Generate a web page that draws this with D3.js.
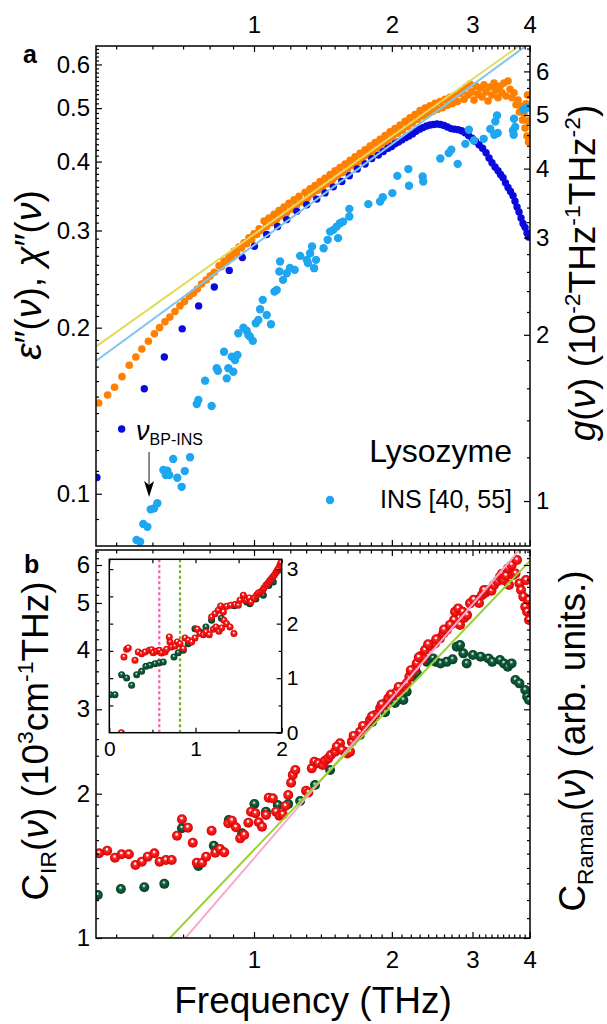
<!DOCTYPE html>
<html>
<head>
<meta charset="utf-8">
<script src="https://cdn.jsdelivr.net/npm/d3@7"></script>
<style>
  body { margin: 0; background: #fff; }
  svg { display: block; }
  text { font-family: "Liberation Sans", Arial, sans-serif; fill: #000; }
</style>
</head>
<body>
<script>
const orangeColor = "#ff7f00";
const blueColor = "#0a0ade";
const insColor = "#1ea6f0";
const yellowColor = "#e2dc5c";
const skyColor = "#7ec6ee";
const pinkColor = "#f7a9c9";
const limeColor = "#9ad232";
const fontFam = "Liberation Sans, Arial, sans-serif";

// tick labels
const xMajor = [1, 2, 3, 4];
const epsTicks = [0.1, 0.2, 0.3, 0.4, 0.5, 0.6];
const gTicks = [1, 2, 3, 4, 5, 6];
const cTicks = [1, 2, 3, 4, 5, 6];
const insetXTicks = [0, 1, 2];
const insetYTicks = [0, 1, 2, 3];

// panel a: dielectric loss eps''(nu) [THz, value]
const epsData = [
  [0.458,0.146],[0.479,0.151],[0.496,0.156],[0.515,0.163],[0.534,0.171],[0.552,0.177],[0.569,0.183],
  [0.588,0.189],[0.606,0.195],[0.622,0.200],[0.639,0.205],[0.655,0.209],[0.672,0.214],[0.689,0.219],
  [0.705,0.223],[0.722,0.228],[0.737,0.231],[0.752,0.235],[0.768,0.240],[0.786,0.244],[0.802,0.248],
  [0.819,0.252],[0.839,0.259],[0.849,0.258],[0.860,0.264],[0.871,0.263],[0.882,0.269],[0.893,0.268],
  [0.904,0.275],[0.916,0.273],[0.927,0.280],[0.939,0.279],[0.951,0.285],[0.963,0.284],[0.975,0.291],
  [0.988,0.289],[1.000,0.296],[1.013,0.295],[1.026,0.302],[1.039,0.300],[1.052,0.312],[1.065,0.305],
  [1.078,0.316],[1.092,0.310],[1.106,0.321],[1.120,0.314],[1.134,0.326],[1.148,0.319],[1.163,0.331],
  [1.178,0.323],[1.192,0.336],[1.208,0.328],[1.223,0.341],[1.238,0.333],[1.254,0.346],[1.270,0.338],
  [1.293,0.352],[1.309,0.344],[1.326,0.357],[1.342,0.349],[1.359,0.362],[1.377,0.355],[1.394,0.368],
  [1.412,0.360],[1.429,0.373],[1.448,0.365],[1.466,0.379],[1.484,0.371],[1.503,0.385],[1.522,0.376],
  [1.541,0.390],[1.561,0.382],[1.581,0.396],[1.601,0.388],[1.621,0.402],[1.641,0.394],[1.662,0.408],
  [1.683,0.399],[1.704,0.414],[1.726,0.405],[1.748,0.420],[1.770,0.411],[1.792,0.427],[1.815,0.417],
  [1.838,0.433],[1.861,0.424],[1.885,0.439],[1.909,0.430],[1.933,0.446],[1.957,0.436],[1.982,0.453],
  [2.007,0.443],[2.032,0.459],[2.058,0.450],[2.084,0.466],[2.111,0.456],[2.137,0.473],[2.164,0.463],
  [2.191,0.480],[2.219,0.470],[2.247,0.487],[2.276,0.477],[2.304,0.495],[2.334,0.484],[2.363,0.500],
  [2.393,0.488],[2.423,0.505],[2.454,0.493],[2.485,0.510],[2.516,0.497],[2.548,0.514],[2.580,0.501],
  [2.613,0.519],[2.646,0.506],[2.679,0.523],[2.713,0.510],[2.748,0.527],[2.782,0.514],[2.818,0.532],
  [2.846,0.537],[2.875,0.519],[2.904,0.546],[2.933,0.528],[2.963,0.553],[2.993,0.535],[3.023,0.517],
  [3.054,0.548],[3.085,0.530],[3.116,0.544],[3.147,0.524],[3.179,0.551],[3.211,0.535],[3.244,0.515],
  [3.276,0.546],[3.309,0.528],[3.343,0.555],[3.377,0.539],[3.411,0.522],[3.445,0.548],[3.480,0.533],
  [3.515,0.555],[3.551,0.526],[3.587,0.560],[3.623,0.541],[3.659,0.522],[3.696,0.533],[3.734,0.507],
  [3.772,0.517],[3.800,0.492],[3.829,0.504],[3.858,0.476],[3.887,0.490],[3.907,0.460],[3.926,0.509],
  [3.946,0.445],[3.966,0.474],[3.976,0.434],[3.956,0.528]
];

// panel a: susceptibility chi''(nu)
const chiData = [
  [0.454,0.107],[0.514,0.131],[0.576,0.155],[0.637,0.177],[0.697,0.199],[0.757,0.219],[0.819,0.237],
  [0.883,0.254],[0.943,0.268],[1.002,0.281],[1.066,0.295],[1.126,0.305],[1.179,0.314],[1.240,0.325],
  [1.304,0.334],[1.371,0.342],[1.429,0.351],[1.490,0.360],[1.555,0.368],[1.615,0.377],[1.681,0.388],
  [1.748,0.396],[1.808,0.405],[1.869,0.411],[1.916,0.417],[1.962,0.423],[1.997,0.426],[2.032,0.431],
  [2.068,0.434],[2.105,0.438],[2.142,0.442],[2.180,0.445],[2.219,0.449],[2.258,0.454],[2.299,0.458],
  [2.339,0.461],[2.381,0.464],[2.423,0.466],[2.466,0.467],[2.510,0.468],[2.554,0.467],[2.600,0.465],
  [2.646,0.462],[2.693,0.459],[2.741,0.458],[2.789,0.457],[2.839,0.455],[2.889,0.451],[2.941,0.446],
  [2.993,0.441],[3.046,0.435],[3.100,0.429],[3.155,0.423],[3.211,0.415],[3.260,0.406],[3.309,0.398],
  [3.360,0.391],[3.411,0.385],[3.454,0.379],[3.498,0.374],[3.542,0.366],[3.587,0.359],[3.632,0.353],
  [3.678,0.347],[3.715,0.339],[3.753,0.331],[3.791,0.324],[3.829,0.316],[3.868,0.309],[3.907,0.304],
  [3.946,0.297],[3.976,0.292]
];

// panel a: INS density of states g(nu), right axis
const insData = [
  [0.554,0.850],[0.564,0.844],[0.573,0.909],[0.585,0.898],[0.595,0.966],[0.605,0.970],[0.615,0.991],
  [0.634,1.138],[0.647,1.135],[0.653,1.114],[0.642,1.114],[0.666,1.192],[0.680,1.102],[0.695,1.061],
  [0.706,1.133],[0.725,1.200],[0.750,1.499],[0.756,1.524],[0.782,1.652],[0.808,1.486],[0.829,1.740],
  [0.834,1.722],[0.860,1.864],[0.872,1.668],[0.879,1.740],[0.901,1.715],[0.894,1.826],[0.909,1.801],
  [0.920,1.839],[0.924,2.013],[0.948,2.061],[0.964,2.035],[0.972,1.999],[0.994,1.950],[0.980,1.985],
  [1.009,2.099],[1.022,2.128],[1.031,2.225],[1.045,2.314],[1.066,2.173],[1.089,2.090],[1.108,2.395],
  [1.121,2.412],[1.136,2.604],[1.140,2.715],[1.157,2.515],[1.179,2.586],[1.198,2.644],[1.227,2.622],
  [1.261,2.780],[1.304,2.734],[1.326,2.811],[1.339,2.890],[1.312,2.697],[1.366,2.734],[1.353,2.641],
  [1.419,2.870],[1.448,2.972],[1.466,3.076],[1.490,3.098],[1.516,3.141],[1.526,2.993],[1.541,3.186],
  [1.565,3.207],[1.615,3.382],[1.615,3.275],[1.777,3.449],[1.885,3.486],[1.911,3.549],[2.005,3.611],
  [2.056,3.881],[2.173,3.992],[2.180,3.723],[2.335,3.870],[2.342,3.790],[2.552,4.172],[2.662,4.267],
  [2.697,4.326],[2.785,4.080],[2.894,4.435],[2.946,4.703],[3.022,4.497],[3.174,4.529],[3.281,4.717],
  [3.365,4.868],[3.394,4.992],[3.348,4.606],[3.406,4.639],[3.678,4.689],[3.718,4.758],[3.690,4.606],
  [3.697,4.924],[3.877,5.112],[3.952,5.155]
];

// power-law guides, end points
const fitYellow = [[0.4518, 0.1848], [4.0, 0.669]];
const fitSky = [[0.4518, 0.174], [4.0, 0.656]];
const bpIns = 0.59;

// panel b: C_IR (red) and C_Raman (green)
const irData = [
  [0.459,1.502],[0.478,1.521],[0.497,1.470],[0.514,1.495],[0.533,1.495],[0.551,1.420],[0.569,1.443],
  [0.586,1.478],[0.606,1.502],[0.622,1.443],[0.642,1.454],[0.661,1.454],[0.679,1.634],[0.696,1.768],
  [0.717,1.699],[0.735,1.580],[0.750,1.436],[0.770,1.436],[0.786,1.478],[0.808,1.674],[0.823,1.506],
  [0.843,1.533],[0.861,1.509],[0.879,1.735],[0.895,1.757],[0.913,1.702],[0.933,1.614],[0.952,1.640],
  [0.972,1.740],[0.985,1.834],[1.007,1.820],[1.024,1.743],[1.041,1.707],[1.062,1.805],[1.077,1.962],
  [1.099,1.956],[1.117,1.834],[1.136,1.799],[1.155,1.811],[1.171,1.885],[1.188,1.987],[1.205,2.108],
  [1.215,2.188],[1.231,2.241],[1.299,2.029],[1.314,2.011],[1.337,2.259],[1.355,2.332],[1.382,2.314],
  [1.413,2.296],[1.429,2.343],[1.453,2.370],[1.471,2.408],[1.503,2.447],[1.541,2.547],[1.516,2.507],
  [1.555,2.467],[1.599,2.427],[1.621,2.447],[1.635,2.567],[1.671,2.629],[1.704,2.693],[1.748,2.759],
  [1.792,2.849],[1.838,2.918],[1.885,3.014],[1.933,3.086],[1.965,3.162],[2.009,3.215],[2.043,3.253],
  [2.091,3.290],[2.119,3.345],[2.155,3.400],[2.184,3.507],[2.210,3.593],[2.247,3.652],[2.267,3.741],
  [2.314,3.874],[2.342,3.831],[2.363,3.987],[2.423,4.064],[2.485,4.117],[2.548,4.218],[2.591,4.320],
  [2.636,4.389],[2.714,4.533],[2.734,4.605],[2.748,4.792],[2.792,4.871],[2.818,4.497],[2.856,4.792],
  [2.875,4.650],[2.919,4.716],[2.963,4.990],[3.064,5.069],[3.100,5.000],[3.147,5.192],[3.200,5.250],
  [3.250,5.319],[3.300,5.300],[3.343,5.448],[3.400,5.550],[3.445,5.669],[3.480,5.750],[3.515,5.580],
  [3.550,5.700],[3.587,5.903],[3.605,5.448],[3.652,5.996],[3.678,5.717],[3.724,5.762],[3.753,6.143],
  [3.798,5.492],[3.829,5.319],[3.873,5.150],[3.911,4.910],[3.926,5.580],[3.948,4.792],[3.976,5.069],
  [3.986,4.605],
  [1.650,2.640],[1.730,2.770],[1.810,2.900],[1.900,3.070],[1.990,3.220],[2.070,3.340],[2.200,3.620],
  [2.290,3.850],[2.400,4.100],[2.500,4.200],[2.600,4.400],[2.680,4.500],[3.020,5.080],[3.180,5.320]
];
const ramanData = [
  [0.456,1.229],[0.512,1.265],[0.576,1.276],[0.637,1.297],[0.696,1.694],[0.756,1.413],[0.817,1.558],
  [0.881,1.762],[0.942,1.653],[1.002,1.903],[1.062,1.834],[1.127,1.894],[1.188,1.903],[1.261,1.931],
  [1.359,2.085],[1.466,2.241],[1.581,2.443],[1.704,2.651],[1.811,2.822],[1.933,2.958],[2.032,3.091],
  [2.119,3.136],[2.155,3.263],[2.228,3.507],[2.267,3.565],[2.387,3.768],[2.423,3.800],[2.460,3.831],
  [2.497,3.768],[2.555,3.740],[2.635,3.768],[2.714,3.813],[2.771,4.051],[2.818,4.084],[2.865,3.925],
  [2.914,3.740],[3.007,3.893],[3.125,3.863],[3.250,3.831],[3.313,3.768],[3.445,3.800],[3.514,3.740],
  [3.583,3.680],[3.652,3.740],[3.723,3.452],[3.798,3.398],[3.911,3.290],[3.949,3.186],[3.986,3.136]
];
const fitPink = [[0.68, 0.956], [4.0, 6.83]];
const fitLime = [[0.64, 0.977], [4.006, 6.12]];

// inset: linear axes, THz vs arb. units
const insetIR = [
  [0.14,0.0],[0.170,1.388],[0.201,1.529],[0.220,1.554],[0.298,1.327],[0.336,1.480],[0.375,1.450],
  [0.414,1.480],[0.464,1.511],[0.491,1.523],[0.510,1.468],[0.549,1.492],[0.580,1.511],[0.607,1.462],
  [0.646,1.480],[0.665,1.529],[0.704,1.664],[0.696,1.755],[0.723,1.572],[0.762,1.590],[0.789,1.664],
  [0.820,1.633],[0.858,1.541],[0.878,1.737],[0.916,1.694],[0.955,1.664],[0.994,1.737],[1.021,1.896],
  [1.052,1.817],[1.090,1.798],[1.121,1.847],[1.160,1.798],[1.207,1.896],[1.237,1.939],[1.272,1.859],
  [1.303,1.920],[1.330,2.061],[1.361,2.000],[1.400,1.939],[1.446,1.817],[1.187,2.122],[1.226,2.183],
  [1.264,2.245],[1.292,2.324],[1.323,2.214],[1.361,2.318],[1.408,2.336],[1.458,2.349],[1.497,2.336],
  [1.516,2.428],[1.555,2.520],[1.593,2.428],[1.624,2.471],[1.643,2.398],[1.678,2.471],[1.709,2.520],
  [1.729,2.563],[1.756,2.581],[1.779,2.612],[1.794,2.654],[1.817,2.703],[1.837,2.734],[1.856,2.777],
  [1.875,2.813],[1.895,2.856],[1.914,2.887],[1.933,2.936],[1.949,2.979],[1.961,3.009],[1.980,3.070],
  [1.991,3.119]
];
const insetRaman = [
  [0.008,0.697],[0.066,0.697],[0.143,1.064],[0.201,1.003],[0.259,0.869],[0.317,1.064],[0.375,1.125],
  [0.425,1.217],[0.472,1.235],[0.530,1.266],[0.580,1.284],[0.626,1.297],[0.750,1.388],[0.800,1.468],
  [0.858,1.511],[0.916,1.633],[0.994,1.908],[1.052,1.847],[1.121,1.939],[1.187,2.060],[1.300,2.100],
  [1.450,2.330],[1.593,2.398],[1.631,2.367],[1.700,2.450],[1.787,2.520],[1.850,2.700],[1.903,2.765],
  [1.961,2.979]
];
const insetMarks = [0.58, 0.82];

var width = 607,
  height = 1024;
var left = 96,
  right = 530,
  aTop = 46,
  aBottom = 546,
  bTop = 550,
  bBottom = 938;

var svg = d3
  .select("body")
  .append("svg")
  .attr("width", width)
  .attr("height", height);

svg.append("rect").attr("width", width).attr("height", height).attr("fill", "#fff");

var defs = svg.append("defs");

function ball(id, stops) {
  var gr = defs
    .append("radialGradient")
    .attr("id", id)
    .attr("cx", "0.5")
    .attr("cy", "0.5")
    .attr("r", "0.5")
    .attr("fx", "0.45")
    .attr("fy", "0.32");
  stops.forEach((s) => gr.append("stop").attr("offset", s[0]).attr("stop-color", s[1]));
}
ball("redBall", [["0", "#ffffff"], ["0.2", "#ffd8d8"], ["0.34", "#ff2a2a"], ["1", "#d80000"]]);
ball("greenBall", [["0", "#e8f4ee"], ["0.2", "#8fb8a2"], ["0.36", "#14603f"], ["1", "#064028"]]);

function clip(id, x0, y0, w, h) {
  defs.append("clipPath").attr("id", id).append("rect").attr("x", x0).attr("y", y0).attr("width", w).attr("height", h);
}
clip("clipA", left, aTop, right - left, aBottom - aTop);
clip("clipB", left, bTop, right - left, bBottom - bTop);

var x = d3.scaleLog().domain([0.4518, 4.006]).range([left, right]);
var yEps = d3.scaleLog().domain([0.0804, 0.648]).range([aBottom, aTop]);
var yG = d3.scaleLog().domain([0.829, 6.67]).range([aBottom, aTop]);
var yC = d3.scaleLog().domain([1, 6.448]).range([bBottom, bTop]);
var xIn = d3.scaleLinear().domain([0, 2]).range([109.3, 281.7]);
var yIn = d3.scaleLinear().domain([0, 3.18]).range([732.7, 559.3]);

var xMinor = d3.range(5, 40).filter((d) => d % 10).map((d) => d / 10);
var epsMinor = d3.range(9, 65).filter((d) => d % 10).map((d) => d / 100);
var gMinor = d3.range(5, 34).filter((d) => d % 5).map((d) => d / 5);
var cMinor = d3.range(11, 20).map((d) => d / 10).concat(d3.range(11, 33).filter((d) => d % 5).map((d) => d / 5));

function dots(g, data, xs, ys, r, fill) {
  g.selectAll(null)
    .data(data)
    .enter()
    .append("circle")
    .attr("cx", (d) => xs(d[0]))
    .attr("cy", (d) => ys(d[1]))
    .attr("r", r)
    .attr("fill", fill);
}

function fitLine(g, data, xs, ys, color) {
  g.append("path")
    .datum(data)
    .attr("d", d3.line().x((d) => xs(d[0])).y((d) => ys(d[1])))
    .attr("fill", "none")
    .attr("stroke", color)
    .attr("stroke-width", 2);
}

function drawAxis(gen, tx, ty, fs) {
  var g = svg.append("g").attr("transform", `translate(${tx},${ty})`).call(gen);
  g.select(".domain").remove();
  g.selectAll(".tick line").attr("stroke", "#000").attr("stroke-width", 1.2);
  g.attr("font-size", fs || 10).attr("font-family", fontFam);
  return g;
}

function richText(t, parts, size) {
  parts.forEach((p) => {
    var s = t.append("tspan").text(p[0]);
    if (p[1] === "i") s.style("font-style", "italic");
    if (p[1] === "sup") s.attr("baseline-shift", size * 0.4).style("font-size", size * 0.62 + "px");
    if (p[1] === "sub") s.attr("baseline-shift", -size * 0.22).style("font-size", size * 0.62 + "px");
  });
}

function title(tx, ty, parts, size) {
  var t = svg
    .append("text")
    .attr("transform", `translate(${tx},${ty}) rotate(-90)`)
    .attr("text-anchor", "middle")
    .style("font-size", size + "px");
  richText(t, parts, size);
}

// ---------- panel a ----------
var pa = svg.append("g").attr("clip-path", "url(#clipA)");
dots(pa, epsData, x, yEps, 3.8, orangeColor);
dots(pa, chiData, x, yEps, 3.7, blueColor);
dots(pa, insData, x, yG, 4.2, insColor);
fitLine(pa, fitYellow, x, yEps, yellowColor);
fitLine(pa, fitSky, x, yEps, skyColor);

svg.append("rect")
  .attr("x", left).attr("y", aTop)
  .attr("width", right - left).attr("height", aBottom - aTop)
  .attr("fill", "none").attr("stroke", "#000").attr("stroke-width", 1.5);

drawAxis(d3.axisTop(x).tickValues(xMajor).tickSize(-6).tickPadding(13).tickFormat(d3.format("d")), 0, aTop, 24);
drawAxis(d3.axisTop(x).tickValues(xMinor).tickSize(-3.5).tickFormat(""), 0, aTop);
drawAxis(d3.axisBottom(x).tickValues(xMajor).tickSize(-6).tickFormat(""), 0, aBottom);
drawAxis(d3.axisBottom(x).tickValues(xMinor).tickSize(-3.5).tickFormat(""), 0, aBottom);
drawAxis(d3.axisLeft(yEps).tickValues(epsTicks).tickSize(-6).tickPadding(6).tickFormat(d3.format(".1f")), left, 0, 24);
drawAxis(d3.axisLeft(yEps).tickValues(epsMinor).tickSize(-3).tickFormat(""), left, 0);
drawAxis(d3.axisRight(yG).tickValues(gTicks).tickSize(-6).tickPadding(6).tickFormat(d3.format("d")), right, 0, 24);
drawAxis(d3.axisRight(yG).tickValues(gMinor).tickSize(-3).tickFormat(""), right, 0);

svg.append("text").text("a").attr("x", 23).attr("y", 63).style("font-weight", "bold").style("font-size", "25px");

title(41, 275, [["\u03b5", "i"], ["\u2033"], ["("], ["\u03bd", "i"], ["), "], ["\u03c7", "i"], ["\u2033"], ["("], ["\u03bd", "i"], [")"]], 37);
title(595, 273, [["g", "i"], ["("], ["\u03bd", "i"], [") (10"], ["-2", "sup"], ["THz"], ["-1", "sup"], ["THz"], ["-2", "sup"], [")"]], 37);

// legend + annotation
svg.append("text").text("Lysozyme").attr("x", 512).attr("y", 462).attr("text-anchor", "end").style("font-size", "32px");
svg.append("circle").attr("cx", 330).attr("cy", 500).attr("r", 4.2).attr("fill", insColor);
svg.append("text").text("INS [40, 55]").attr("x", 512).attr("y", 508).attr("text-anchor", "end").style("font-size", "25px");

var bpX = x(bpIns);
var bpLabel = svg.append("text").attr("x", bpX - 13).attr("y", 440).style("font-size", "27px");
bpLabel.append("tspan").text("\u03bd").style("font-style", "italic");
bpLabel.append("tspan").text("BP-INS").attr("dy", 5).style("font-size", "16px");
svg.append("line")
  .attr("x1", bpX).attr("x2", bpX).attr("y1", 452).attr("y2", 486)
  .attr("stroke", "#666").attr("stroke-width", 1.5);
svg.append("path")
  .attr("d", `M${bpX},497 L${bpX - 5},481 L${bpX},485 L${bpX + 5},481 Z`)
  .attr("fill", "#000");

// ---------- panel b ----------
var pb = svg.append("g").attr("clip-path", "url(#clipB)");
dots(pb, ramanData, x, yC, 5, "url(#greenBall)");
dots(pb, irData, x, yC, 5, "url(#redBall)");
fitLine(pb, fitPink, x, yC, pinkColor);
fitLine(pb, fitLime, x, yC, limeColor);

svg.append("rect")
  .attr("x", left).attr("y", bTop)
  .attr("width", right - left).attr("height", bBottom - bTop)
  .attr("fill", "none").attr("stroke", "#000").attr("stroke-width", 1.5);

drawAxis(d3.axisTop(x).tickValues(xMajor).tickSize(-6).tickFormat(""), 0, bTop);
drawAxis(d3.axisTop(x).tickValues(xMinor).tickSize(-3.5).tickFormat(""), 0, bTop);
drawAxis(d3.axisBottom(x).tickValues(xMajor).tickSize(-6).tickPadding(13).tickFormat(d3.format("d")), 0, bBottom, 24);
drawAxis(d3.axisBottom(x).tickValues(xMinor).tickSize(-3.5).tickFormat(""), 0, bBottom);
drawAxis(d3.axisLeft(yC).tickValues(cTicks).tickSize(-6).tickPadding(6).tickFormat(d3.format("d")), left, 0, 24);
drawAxis(d3.axisLeft(yC).tickValues(cMinor).tickSize(-3).tickFormat(""), left, 0);
drawAxis(d3.axisRight(yC).tickValues(cTicks).tickSize(-6).tickFormat(""), right, 0);
drawAxis(d3.axisRight(yC).tickValues(cMinor).tickSize(-3).tickFormat(""), right, 0);

svg.append("text").text("b").attr("x", 24).attr("y", 573).style("font-weight", "bold").style("font-size", "25px");

title(48, 741, [["C"], ["IR", "sub"], ["("], ["\u03bd", "i"], [") (10"], ["3", "sup"], ["cm"], ["-1", "sup"], ["THz)"]], 37);
title(585, 741, [["C"], ["Raman", "sub"], ["("], ["\u03bd", "i"], [") (arb. units.)"]], 37);

svg.append("text")
  .text("Frequency (THz)")
  .attr("x", (left + right) / 2)
  .attr("y", 1013)
  .attr("text-anchor", "middle")
  .style("font-size", "37px");

// ---------- inset ----------
var ix0 = xIn.range()[0], ix1 = xIn.range()[1], iy0 = yIn.range()[1], iy1 = yIn.range()[0];
clip("clipIn", ix0, iy0, ix1 - ix0, iy1 - iy0);
svg.append("rect").attr("x", ix0).attr("y", iy0).attr("width", ix1 - ix0).attr("height", iy1 - iy0).attr("fill", "#fff");
var pin = svg.append("g").attr("clip-path", "url(#clipIn)");
pin.selectAll(null)
  .data(insetMarks)
  .enter()
  .append("line")
  .attr("x1", (d) => xIn(d)).attr("x2", (d) => xIn(d))
  .attr("y1", iy0).attr("y2", iy1)
  .attr("stroke", (d, i) => (i === 0 ? "#ff5ab4" : "#78b020"))
  .attr("stroke-width", 2.2)
  .attr("stroke-dasharray", "3,2.5");
dots(pin, insetRaman, xIn, yIn, 3.5, "url(#greenBall)");
dots(pin, insetIR, xIn, yIn, 3.5, "url(#redBall)");

svg.append("rect")
  .attr("x", ix0).attr("y", iy0).attr("width", ix1 - ix0).attr("height", iy1 - iy0)
  .attr("fill", "none").attr("stroke", "#000").attr("stroke-width", 1.5);

drawAxis(d3.axisBottom(xIn).tickValues(insetXTicks).tickSize(-5).tickPadding(8).tickFormat(d3.format("d")), 0, iy1, 21);
drawAxis(d3.axisBottom(xIn).tickValues([0.5, 1.5]).tickSize(-3).tickFormat(""), 0, iy1);
drawAxis(d3.axisTop(xIn).tickValues(insetXTicks.concat([0.5, 1.5])).tickSize(-4).tickFormat(""), 0, iy0);
drawAxis(d3.axisLeft(yIn).tickValues([0.5, 1, 1.5, 2, 2.5, 3]).tickSize(-4).tickFormat(""), ix0, 0);
drawAxis(d3.axisRight(yIn).tickValues(insetYTicks).tickSize(-5).tickPadding(5).tickFormat(d3.format("d")), ix1, 0, 21);
drawAxis(d3.axisRight(yIn).tickValues([0.5, 1.5, 2.5]).tickSize(-3).tickFormat(""), ix1, 0);
</script>
</body>
</html>
